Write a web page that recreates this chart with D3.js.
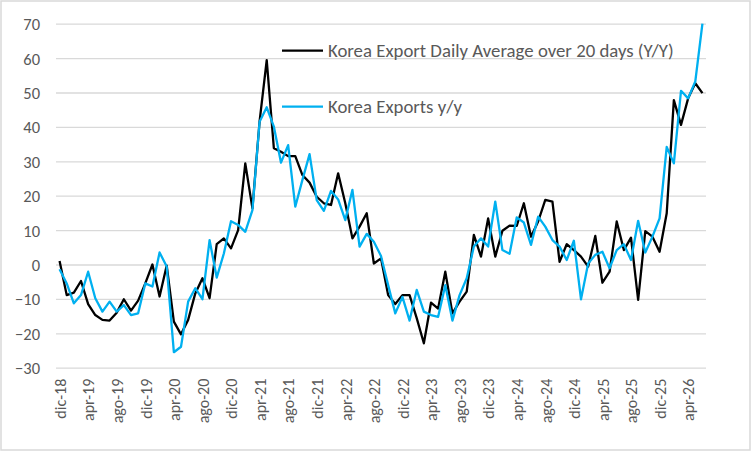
<!DOCTYPE html>
<html>
<head>
<meta charset="utf-8">
<script src="https://cdn.jsdelivr.net/npm/d3@7"></script>
<style>
  body { margin: 0; background: #fff; }
  text { font-family: Calibri, Carlito, Lato, sans-serif; fill: #595959; }
</style>
</head>
<body>
<div id="chart"></div>
<script>
// monthly categories, dic-18 .. jun-26
const monthAbbr = ["ene", "feb", "mar", "apr", "may", "jun", "jul", "ago", "sep", "oct", "nov", "dic"];
const categories = d3.timeMonth.range(new Date(2018, 11, 1), new Date(2026, 6, 1))
    .map(d => monthAbbr[d.getMonth()] + "-" + String(d.getFullYear()).slice(2));

const tickLabels = ["dic-18", "apr-19", "ago-19", "dic-19", "apr-20", "ago-20", "dic-20", "apr-21",
    "ago-21", "dic-21", "apr-22", "ago-22", "dic-22", "apr-23", "ago-23", "dic-23", "apr-24",
    "ago-24", "dic-24", "apr-25", "ago-25", "dic-25", "apr-26"];
const yTicks = [-30, -20, -10, 0, 10, 20, 30, 40, 50, 60, 70];

// Korea Export Daily Average over 20 days (Y/Y)
const dailyAvg = [
    1.0, -8.9, -8.2, -4.8, -11.5, -14.7, -16.1, -16.3, -14.0, -10.1,
    -13.4, -10.5, -5.5, 0.0, -9.3, -0.3, -16.6, -20.3, -16.1, -8.4,
    -4.0, -9.8, 5.9, 7.6, 4.7, 10.0, 29.4, 16.3, 41.5, 59.4,
    33.8, 32.8, 31.5, 31.5, 26.0, 23.8, 19.7, 17.8, 17.3, 26.5,
    17.8, 7.6, 11.0, 14.9, 0.3, 1.8, -8.9, -11.5, -8.9, -8.9,
    -15.6, -22.9, -11.1, -12.8, -2.1, -14.2, -10.8, -7.9, 8.6, 2.3,
    13.4, 2.3, 9.8, 11.3, 11.2, 17.8, 8.1, 12.5, 18.8, 18.3,
    0.8, 5.9, 4.2, 2.3, -0.6, 8.3, -5.3, -2.1, 12.5, 4.2,
    7.8, -10.3, 9.7, 8.1, 3.7, 14.9, 47.8, 40.6, 48.3, 52.7, 49.8
];
// Korea Exports y/y
const exportsYoY = [
    -1.4, -5.5, -11.3, -8.9, -2.1, -9.8, -13.7, -10.8, -13.7, -11.8,
    -14.7, -14.2, -5.5, -6.4, 3.5, -0.6, -25.5, -23.9, -10.8, -6.9,
    -10.1, 7.1, -3.8, 3.2, 12.6, 11.5, 9.5, 15.8, 41.5, 45.7,
    40.1, 29.6, 34.7, 16.8, 24.6, 32.1, 18.7, 15.6, 21.4, 18.9,
    12.9, 21.7, 5.2, 8.9, 6.6, 2.5, -6.0, -14.2, -9.4, -16.3,
    -7.4, -13.7, -14.7, -15.2, -6.0, -16.3, -8.9, -4.0, 5.2, 7.6,
    5.2, 18.3, 4.2, 3.1, 13.7, 12.2, 5.7, 13.9, 11.0, 7.1,
    5.2, 1.3, 6.9, -10.1, 0.3, 2.8, 3.7, -1.1, 4.2, 5.9,
    1.3, 12.7, 3.5, 8.1, 13.4, 34.2, 29.4, 50.5, 48.3, 53.2, 70.0
];

const seriesNames = ["Korea Export Daily Average over 20 days (Y/Y)", "Korea Exports y/y"];
const seriesColors = ["#000000", "#00b0f0"];

const W = 752, H = 452;
const plot = { left: 56, right: 706, top: 23.7, bottom: 367.7 };

const svg = d3.select("#chart")
    .append("svg")
    .attr("width", W)
    .attr("height", H);

// chart frame
svg.append("rect")
    .attr("x", 1).attr("y", 1)
    .attr("width", W - 3).attr("height", H - 3)
    .attr("fill", "#fff")
    .attr("stroke", "#d9d9d9")
    .attr("stroke-width", 1.5);

const x = d3.scalePoint()
    .domain(categories)
    .range([plot.left, plot.right])
    .padding(0.5);

const y = d3.scaleLinear()
    .domain([-30, 70])
    .range([plot.bottom, plot.top]);

// y axis + gridlines
const yAxis = svg.append("g")
    .attr("transform", `translate(${plot.left},0)`)
    .call(d3.axisLeft(y)
        .tickValues(yTicks)
        .tickSize(-(plot.right - plot.left))
        .tickPadding(16));
yAxis.select(".domain").remove();
yAxis.selectAll("line")
    .attr("stroke", "#d9d9d9")
    .attr("stroke-width", 1.3);
yAxis.selectAll("text")
    .style("font-size", "16.5px")
    .attr("dy", "0.36em");

// x axis, rotated labels
const xAxis = svg.append("g")
    .attr("transform", `translate(0,${plot.bottom})`)
    .call(d3.axisBottom(x).tickValues(tickLabels).tickSize(0));
xAxis.select(".domain").remove();
xAxis.selectAll("text")
    .attr("transform", "rotate(-90)")
    .attr("text-anchor", "end")
    .attr("x", -11)
    .attr("y", 0)
    .attr("dy", "0.36em")
    .style("font-size", "16px");

svg.append("clipPath")
    .attr("id", "plot-clip")
    .append("rect")
    .attr("x", plot.left).attr("y", plot.top - 2)
    .attr("width", plot.right - plot.left)
    .attr("height", plot.bottom - plot.top + 4);

const line = d3.line()
    .x((d, i) => x(categories[i]))
    .y(d => y(d));

const lines = svg.append("g").attr("clip-path", "url(#plot-clip)");
[dailyAvg, exportsYoY].forEach((vals, k) => {
    lines.append("path")
        .datum(vals)
        .attr("fill", "none")
        .attr("stroke", seriesColors[k])
        .attr("stroke-width", 2.3)
        .attr("stroke-linejoin", "round")
        .attr("d", line);
});

// legend
const legend = svg.append("g");
const legendY = [50.7, 106.7];
seriesNames.forEach((name, k) => {
    legend.append("line")
        .attr("x1", 282).attr("x2", 323)
        .attr("y1", legendY[k]).attr("y2", legendY[k])
        .attr("stroke", seriesColors[k])
        .attr("stroke-width", 2.3);
    legend.append("text")
        .attr("x", 328)
        .attr("y", legendY[k])
        .attr("dy", "0.35em")
        .style("font-size", "18.8px")
        .text(name);
});
</script>
</body>
</html>
